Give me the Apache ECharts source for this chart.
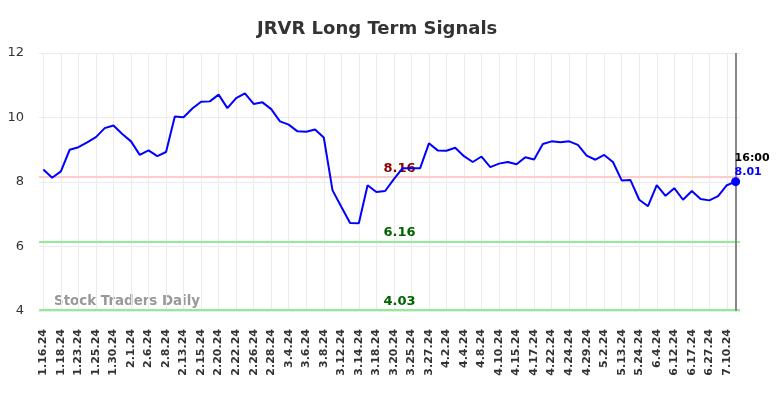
<!DOCTYPE html>
<html>
<head>
    <meta charset="UTF-8">
    <title>JRVR Long Term Signals</title>
    <script src="https://cdn.jsdelivr.net/npm/echarts@6/dist/echarts.min.js"></script>
    <style>
        html, body { margin: 0; padding: 0; background: #fff; }
        #chart { width: 784px; height: 398px; }
    </style>
</head>
<body>
<div id="chart"></div>
<script>
    // dates (every other one is shown on the axis)
    var dates = ['1.16.24', '1.17.24', '1.18.24', '1.19.24', '1.23.24', '1.24.24', '1.25.24', '1.26.24', '1.30.24', '1.31.24',
        '2.1.24', '2.5.24', '2.6.24', '2.7.24', '2.8.24', '2.9.24', '2.13.24', '2.14.24', '2.15.24', '2.16.24',
        '2.20.24', '2.21.24', '2.22.24', '2.23.24', '2.26.24', '2.27.24', '2.28.24', '2.29.24', '3.4.24', '3.5.24',
        '3.6.24', '3.7.24', '3.8.24', '3.11.24', '3.12.24', '3.13.24', '3.14.24', '3.15.24', '3.18.24', '3.19.24',
        '3.20.24', '3.21.24', '3.25.24', '3.26.24', '3.27.24', '3.28.24', '4.2.24', '4.3.24', '4.4.24', '4.5.24',
        '4.8.24', '4.9.24', '4.10.24', '4.12.24', '4.15.24', '4.16.24', '4.17.24', '4.19.24', '4.22.24', '4.23.24',
        '4.24.24', '4.26.24', '4.29.24', '5.1.24', '5.2.24', '5.7.24', '5.13.24', '5.20.24', '5.24.24', '5.31.24',
        '6.4.24', '6.7.24', '6.12.24', '6.14.24', '6.17.24', '6.21.24', '6.27.24', '7.3.24', '7.10.24', '7.12.24'];

    var prices = [8.39, 8.13, 8.33, 9.00, 9.08, 9.23, 9.39, 9.67, 9.75, 9.49,
        9.26, 8.84, 8.98, 8.80, 8.93, 10.03, 10.01, 10.28, 10.49, 10.50,
        10.71, 10.29, 10.60, 10.75, 10.42, 10.47, 10.26, 9.88, 9.78, 9.57,
        9.56, 9.63, 9.38, 7.74, 7.23, 6.73, 6.72, 7.90, 7.69, 7.72,
        8.09, 8.43, 8.43, 8.43, 9.20, 8.98, 8.97, 9.06, 8.80, 8.62,
        8.79, 8.46, 8.57, 8.62, 8.55, 8.77, 8.70, 9.18, 9.26, 9.23,
        9.26, 9.15, 8.82, 8.69, 8.84, 8.62, 8.05, 8.06, 7.45, 7.25,
        7.90, 7.57, 7.81, 7.45, 7.72, 7.47, 7.43, 7.56, 7.90, 8.01];

    // signal levels
    var levels = [8.16, 6.16, 4.03];
    var levelLine = ['#ffcccc', '#90ee90', '#90ee90'];
    var levelText = ['#8b0000', '#006400', '#006400'];

    var yTicks = [4, 6, 8, 10, 12];
    var lastTime = '16:00';

    var chart = echarts.init(document.getElementById('chart'));

    var lastIdx = prices.length - 1;
    var seriesData = prices.map(function (v, i) {
        if (i !== lastIdx) return v;
        return {
            value: v,
            label: {
                show: true,
                position: 'top',
                align: 'left',
                distance: 0,
                offset: [-1, 2],
                formatter: '{t|' + lastTime + '}\n{v|' + v.toFixed(2) + '}',
                rich: {
                    t: { color: '#000', fontWeight: 'bold', fontSize: 11, lineHeight: 14, fontFamily: 'DejaVu Sans' },
                    v: { color: '#0000ff', fontWeight: 'bold', fontSize: 11, lineHeight: 14, fontFamily: 'DejaVu Sans' }
                }
            }
        };
    });

    var levelLines = levels.map(function (lv, i) {
        return {
            yAxis: lv,
            lineStyle: { color: levelLine[i], width: 2, type: 'solid' },
            label: {
                show: true,
                position: 'insideMiddleTop',
                distance: 2,
                offset: [10, 0],
                formatter: lv.toFixed(2),
                color: levelText[i],
                fontWeight: 'bold',
                fontSize: 13,
                fontFamily: 'DejaVu Sans'
            }
        };
    });

    var option = {
        animation: false,
        backgroundColor: '#fff',
        title: {
            text: 'JRVR Long Term Signals',
            left: 252,
            top: 15,
            textStyle: { fontSize: 18, fontWeight: 'bold', color: '#333', fontFamily: 'DejaVu Sans' }
        },
        graphic: [{
            type: 'text',
            left: 54,
            top: 295,
            style: { text: 'Stock Traders Daily', fill: '#999', font: 'bold 13.4px "DejaVu Sans"' }
        }],
        grid: { left: 39, right: 44, top: 53, bottom: 87 },
        xAxis: {
            type: 'category',
            data: dates,
            boundaryGap: true,
            axisLine: { show: false },
            axisTick: { show: false },
            axisLabel: {
                interval: 1,
                rotate: 90,
                margin: 18,
                fontSize: 11,
                fontWeight: 'bold',
                color: '#333',
                fontFamily: 'DejaVu Sans'
            },
            splitLine: { show: true, interval: 1, alignWithLabel: true, lineStyle: { color: '#ebebeb', width: 1 } }
        },
        yAxis: {
            type: 'value',
            min: yTicks[0],
            max: yTicks[yTicks.length - 1],
            interval: 2,
            axisLine: { show: false },
            axisTick: { show: false },
            axisLabel: { fontSize: 13, color: '#333', margin: 15, fontFamily: 'DejaVu Sans' },
            splitLine: { lineStyle: { color: '#ebebeb', width: 1 } }
        },
        series: [{
            type: 'line',
            data: seriesData,
            showSymbol: true,
            showAllSymbol: true,
            symbol: 'circle',
            symbolSize: function (val, params) {
                return params.dataIndex === lastIdx ? 9 : 0;
            },
            lineStyle: { color: '#0000ff', width: 2 },
            itemStyle: { color: '#0000ff' },
            z: 5,
            markLine: {
                silent: true,
                symbol: 'none',
                animation: false,
                data: levelLines.concat([{
                    xAxis: lastIdx,
                    lineStyle: { color: '#888', width: 2, type: 'solid' },
                    label: { show: false }
                }])
            }
        }]
    };

    chart.setOption(option);
</script>
</body>
</html>
